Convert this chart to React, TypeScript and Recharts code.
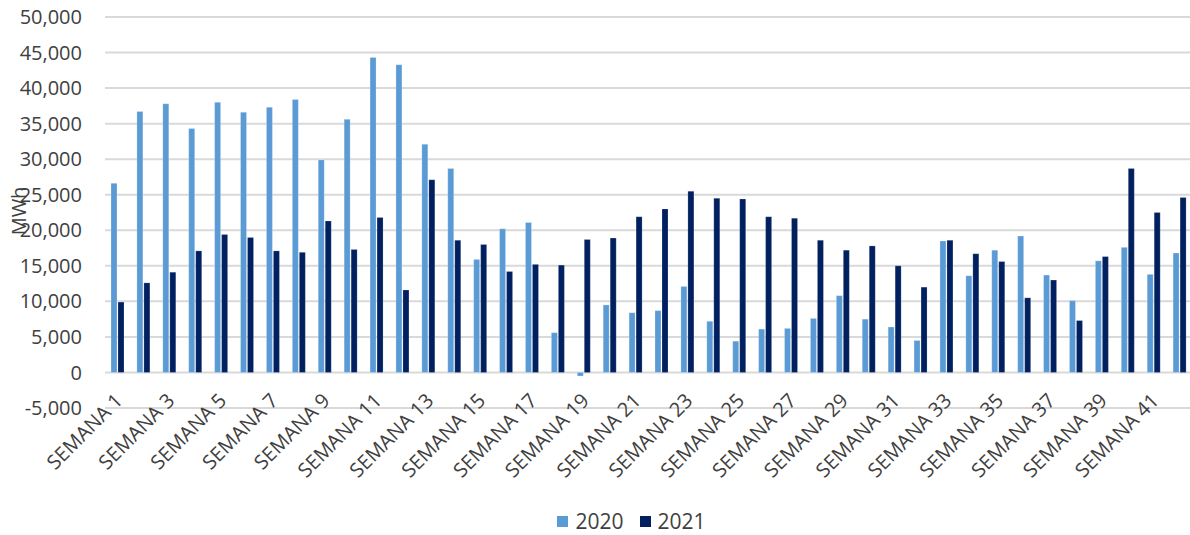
import React from "react";
import { BarChart, Bar, XAxis, YAxis, CartesianGrid, Legend } from "recharts";

const weeks = Array.from({ length: 42 }, (_, i) => `SEMANA ${i + 1}`);

const values2020 = [
  26600, 36700, 37800, 34300, 38000, 36600, 37300, 38400, 29900, 35600, 44300, 43300,
  32100, 28700, 15900, 20200, 21100, 5600, -500, 9500,
  8400, 8700, 12100, 7200, 4400, 6100, 6200,
  7600, 10800, 7500, 6400, 4500, 18500, 13600, 17200, 19200, 13700, 10100, 15700, 17600, 13800, 16800,
];

const values2021 = [
  9900, 12600, 14100, 17100, 19400, 19000, 17100, 16900, 21300, 17300, 21800, 11600,
  27100, 18600, 18000, 14200, 15200, 15100, 18700, 18900,
  21900, 23000, 25500, 24500, 24400, 21900, 21700,
  18600, 17200, 17800, 15000, 12000, 18600, 16700, 15600, 10500, 13000, 7300, 16300, 28700, 22500, 24600,
];

const yTicks = [-5000, 0, 5000, 10000, 15000, 20000, 25000, 30000, 35000, 40000, 45000, 50000];

const data = weeks.map((week, i) => ({
  week,
  y2020: values2020[i],
  y2021: values2021[i],
}));

const FONT = "'Open Sans', 'Noto Sans', sans-serif";
const TEXT = "#404040";

const WeekTick = ({ x, y, payload }: any) => {
  const tx = x + 6;
  const ty = y - 6;
  return (
    <text
      x={tx}
      y={ty}
      transform={`rotate(-45, ${tx}, ${ty})`}
      textAnchor="end"
      fill={TEXT}
      fontSize={20}
      fontFamily={FONT}
    >
      {payload.value}
    </text>
  );
};

const LegendContent = ({ payload }: any) => (
  <div
    style={{
      display: "flex",
      justifyContent: "center",
      paddingLeft: 70,
      fontFamily: FONT,
      fontSize: 21,
      color: TEXT,
    }}
  >
    {payload.map((p: any) => (
      <div key={p.value} style={{ display: "flex", alignItems: "center", margin: "0 8px" }}>
        <span style={{ width: 11, height: 11, background: p.color, display: "inline-block", marginRight: 7 }} />
        <span>{p.value}</span>
      </div>
    ))}
  </div>
);

export default function App() {
  return (
    <div style={{ position: "fixed", left: 0, top: 0, width: 1190, height: 535, overflow: "hidden", background: "#fff" }}>
      <BarChart
        width={1193}
        height={535}
        data={data}
        margin={{ top: 17, right: 0, bottom: 9, left: 0 }}
        barSize={6}
        barGap={1}
        barCategoryGap={0}
      >
        <CartesianGrid vertical={false} stroke="#d9d9d9" strokeWidth={2} />
        <XAxis
          dataKey="week"
          interval={1}
          tickLine={false}
          axisLine={false}
          tickSize={0}
          tickMargin={0}
          height={90}
          tick={<WeekTick />}
        />
        <YAxis
          width={105}
          domain={[-5000, 50000]}
          ticks={yTicks}
          tickLine={false}
          axisLine={false}
          tickSize={0}
          tickMargin={23}
          tick={{ fill: TEXT, fontSize: 20, fontFamily: FONT }}
          tickFormatter={(v: number) => v.toLocaleString("en-US")}
          label={{
            content: () => (
              <text
                x={18}
                y={211}
                transform="rotate(-90, 18, 211)"
                textAnchor="middle"
                dominantBaseline="central"
                fill={TEXT}
                fontSize={20}
                fontFamily={FONT}
              >
                MWh
              </text>
            ),
          }}
        />
        <Legend
          verticalAlign="bottom"
          height={28}
          wrapperStyle={{ top: 507, height: 28 }}
          content={<LegendContent />}
        />
        <Bar dataKey="y2020" name="2020" fill="#5b9bd5" stroke="#ffffff" strokeOpacity={0.4} strokeWidth={0.6} isAnimationActive={false} />
        <Bar dataKey="y2021" name="2021" fill="#002060" stroke="#ffffff" strokeOpacity={0.3} strokeWidth={0.6} isAnimationActive={false} />
      </BarChart>
    </div>
  );
}
